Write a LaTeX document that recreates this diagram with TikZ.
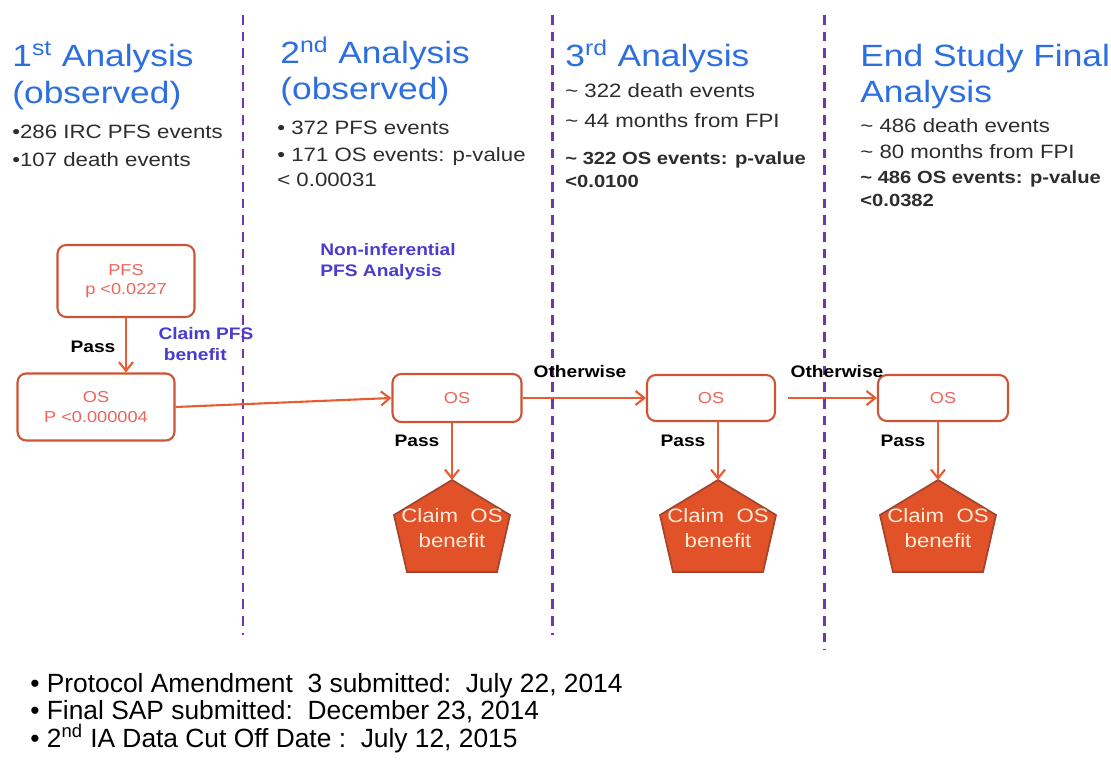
\documentclass[tikz,border=0pt]{standalone}
\usepackage{fontspec}
\setmainfont{Liberation Sans}[FakeStretch=1.15]
\newfontfamily\notefont{Liberation Sans}
\usetikzlibrary{arrows.meta}
\definecolor{myblue}{RGB}{45,110,225}
\definecolor{mypurple}{RGB}{118,52,170}
\definecolor{myviolet}{RGB}{75,60,205}
\definecolor{myred}{RGB}{205,85,55}
\definecolor{myorange}{RGB}{232,92,52}
\definecolor{myredtext}{RGB}{236,100,90}
\definecolor{myfill}{RGB}{226,82,40}
\definecolor{mydark}{RGB}{45,45,45}

\tikzset{
  heading/.style={anchor=base west, inner sep=0, text=myblue, font=\fontsize{17.5}{20}\selectfont},
  info/.style={anchor=base west, inner sep=0, text=mydark, font=\fontsize{11}{13}\selectfont},
  infobold/.style={info, font=\fontsize{10}{12}\selectfont\bfseries},
  note/.style={anchor=base west, inner sep=0, text=black, font=\notefont\fontsize{15}{17}\selectfont},
  testbox/.style={draw=myred, line width=1.2pt, rounded corners=5pt, text=myredtext,
    font=\fontsize{9}{11}\selectfont, align=center, inner sep=0},
  flow/.style={draw=myorange, line width=1.2pt, -{Straight Barb[length=5pt, width=8pt]}},
  edgelabel/.style={inner sep=0, text=black, font=\fontsize{9.5}{11}\selectfont\bfseries},
  remark/.style={inner sep=0, text=myviolet, align=left, font=\fontsize{9.5}{12}\selectfont\bfseries},
  claimshape/.style={fill=myfill, draw=myred!80!black, line width=1pt},
  claimtext/.style={inner sep=0, align=center, text=white!85!orange, font=\fontsize{11}{14.7}\selectfont},
  timeline/.style={mypurple, line width=1.7pt, dash pattern=on 5.5pt off 4pt},
}

\begin{document}
\begin{tikzpicture}[x=0.02cm, y=-0.02cm]
  \fill[white] (0,0) rectangle (1111,760);
  \useasboundingbox (0,0) rectangle (1111,760);

  % separators between the analyses
  \draw[timeline] (243,15) -- (243,635);
  \draw[timeline] (552,15) -- (552,635);
  \draw[timeline] (824,15) -- (824,650);

  % column headers
  \node[heading] (h1) at (12,67) {1\textsuperscript{st} Analysis};
  \node[heading] (h1b) at (12,104) {(observed)};
  \node[info] (i1a) at (12,139) {•286 IRC PFS events};
  \node[info] (i1b) at (12,167) {•107 death events};

  \node[heading] (h2) at (280,64) {2\textsuperscript{nd} Analysis};
  \node[heading] (h2b) at (280,100) {(observed)};
  \node[info] (i2a) at (277,135) {• 372 PFS events};
  \node[info] (i2b) at (277,162) {• 171 OS events: p-value};
  \node[info] (i2c) at (277,187) {< 0.00031};

  \node[heading] (h3) at (565,67) {3\textsuperscript{rd} Analysis};
  \node[info] (i3a) at (565,98) {\textasciitilde{} 322 death events};
  \node[info] (i3b) at (565,128) {\textasciitilde{} 44 months from FPI};
  \node[infobold] (i3c) at (565,165) {\textasciitilde{} 322 OS events: p-value};
  \node[infobold] (i3d) at (565,188) {<0.0100};

  \node[heading] (h4) at (860,67) {End Study Final};
  \node[heading] (h4b) at (860,103) {Analysis};
  \node[info] (i4a) at (860,133) {\textasciitilde{} 486 death events};
  \node[info] (i4b) at (860,159) {\textasciitilde{} 80 months from FPI};
  \node[infobold] (i4c) at (860,184) {\textasciitilde{} 486 OS events: p-value};
  \node[infobold] (i4d) at (860,207) {<0.0382};

  % testing boxes
  \node[testbox, minimum width=2.74cm, minimum height=1.44cm] (pfs) at (126,281) {PFS\\p <0.0227};
  \node[testbox, minimum width=3.14cm, minimum height=1.34cm] (os1) at (96,407) {OS\\P <0.000004};
  \node[testbox, minimum width=2.58cm, minimum height=0.96cm] (os2) at (457,398) {OS};
  \node[testbox, minimum width=2.56cm, minimum height=0.92cm] (os3) at (711,398) {OS};
  \node[testbox, minimum width=2.6cm, minimum height=0.92cm] (os4) at (943,398) {OS};

  \node[remark] (claimpfs) at (206,344) {Claim PFS\\\hspace{3pt}benefit};
  \node[remark] (noninf) at (388,262) {Non-inferential\\PFS Analysis};

  \draw[flow] (pfs.south) -- (pfs.south |- os1.north);
  \node[edgelabel] (pass1) at (93,347) {Pass};
  \draw[flow] (os1.east) -- (os2.west);
  \draw[flow] (os2.east) -- (os3.west);
  \node[edgelabel] (other1) at (580,372) {Otherwise};
  \draw[flow, shorten <=0.24cm] (os3.east) -- (os4.west);
  \node[edgelabel] (other2) at (837,372) {Otherwise};

  % claim OS benefit after each OS test
  \foreach \n/\x in {2/452, 3/718, 4/938} {
    \coordinate (claim\n) at (\x,480);
    \filldraw[claimshape] (claim\n) -- ++(58,35) -- ++(-13,57) -- ++(-90,0) -- ++(-13,-57) -- cycle;
    \node[claimtext] (claimtext\n) at (\x,528) {Claim\ \ OS\\benefit};
    \draw[flow] (os\n.south -| claim\n) -- (claim\n);
    \node[edgelabel] (pass\n) at (\x-35,441) {Pass};
  }

  % milestones
  \node[note] (m1) at (30,692) {• Protocol Amendment\ \ 3 submitted:\ \ July 22, 2014};
  \node[note] (m2) at (30,719) {• Final SAP submitted:\ \ December 23, 2014};
  \node[note] (m3) at (30,747) {• 2\textsuperscript{nd} IA Data Cut Off Date :\ \ July 12, 2015};
\end{tikzpicture}
\end{document}
